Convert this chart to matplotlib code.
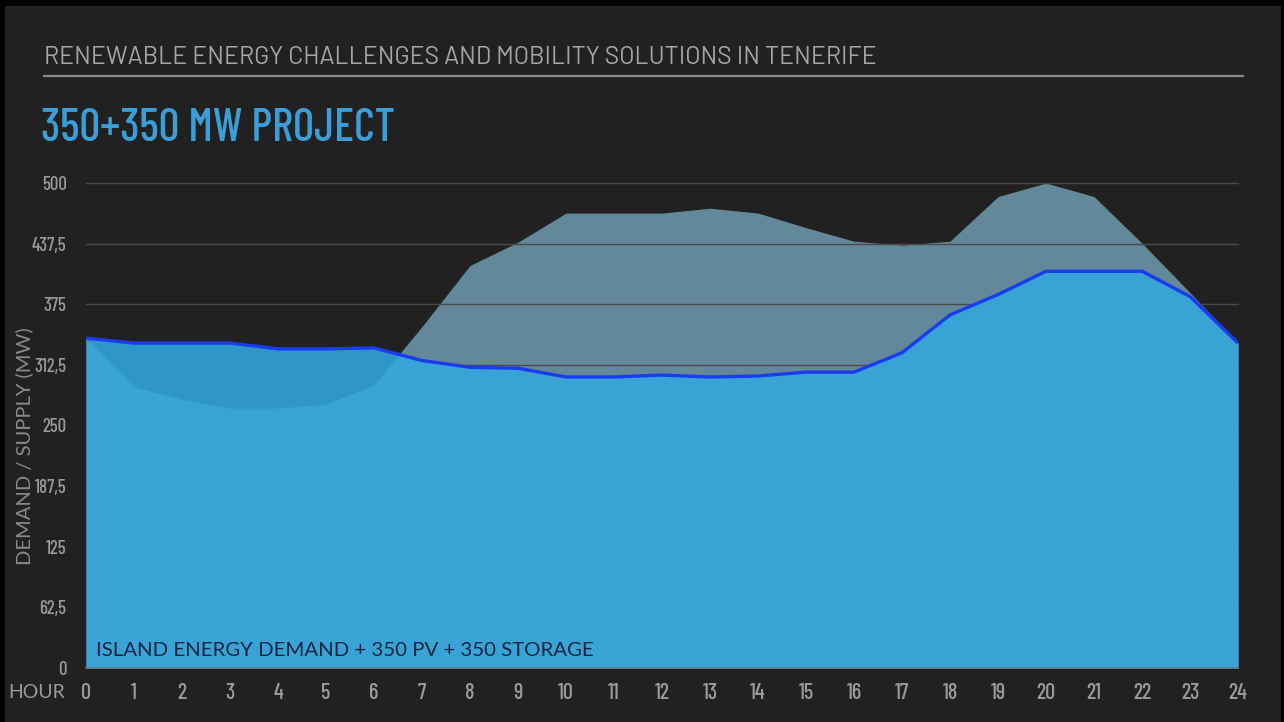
import matplotlib.pyplot as plt
from matplotlib.patches import Rectangle
import numpy as np

# godziny i wartosci (MW)
hours = np.arange(0, 25)
supply = [340, 290, 277, 268, 268, 272, 292, 352, 415, 439, 469, 469, 469,
          474, 469, 454, 440, 436, 440, 486, 500, 486, 438, 387, 335]
demand = [340, 335, 335, 335, 329, 329, 330, 317, 310, 309, 300, 300, 302,
          300, 301, 305, 305, 325, 364, 385, 409, 409, 409, 383, 335]

y_ticks = [0, 62.5, 125, 187.5, 250, 312.5, 375, 437.5, 500]
y_tick_labels = ['0', '62,5', '125', '187,5', '250', '312,5', '375', '437,5', '500']

W, H = 1284, 722
BG = '#212121'

COND = ['Barlow Condensed', 'Roboto Condensed', 'DejaVu Sans']
WIDE = ['Barlow', 'Roboto', 'DejaVu Sans']
PLAIN = ['Lato', 'DejaVu Sans']


def fx(px):
    return px / W


def fy(py):
    return 1 - py / H


fig = plt.figure(figsize=(W / 100, H / 100), dpi=100, facecolor='black')
fig.patches.append(Rectangle((fx(5), 0), fx(1281) - fx(5), fy(6),
                             transform=fig.transFigure, facecolor=BG,
                             edgecolor='none', zorder=-5))

ax = fig.add_axes([fx(86), fy(668), fx(1238) - fx(86), fy(183) - fy(668)])
ax.set_facecolor('none')

sup = np.array(supply)
dem = np.array(demand)
ax.fill_between(hours, 0, sup, color='#63889a', lw=0, zorder=1)
for yv in y_ticks[1:]:
    ax.axhline(yv, color='#4a4a4a', lw=1, zorder=2, clip_on=False)
ax.fill_between(hours, 0, dem, color='#3aa3d6', lw=0, zorder=3)
ax.fill_between(hours, sup, dem, where=sup < dem, interpolate=True,
                color='#2f96c9', lw=0, zorder=3.5)
ax.plot(hours, demand, color='#1a3cf0', lw=2.4, zorder=4, solid_capstyle='butt')

ax.set_xlim(0, 24)
ax.set_ylim(0, 500)
ax.set_xticks(hours)
ax.set_xticklabels([str(h) for h in hours], family=COND, fontweight='medium',
                   fontsize=16, color='#9a9a9a')
ax.set_yticks(y_ticks)
ax.set_yticklabels(y_tick_labels, family=COND, fontweight='medium',
                   fontsize=13.5, color='#9a9a9a')
ax.tick_params(axis='x', length=0, pad=11)
ax.tick_params(axis='y', length=0, pad=14)
for s in ['top', 'right', 'left']:
    ax.spines[s].set_visible(False)
ax.spines['bottom'].set_color('#6a7a80')
ax.spines['bottom'].set_linewidth(1.2)
ax.spines['bottom'].set_zorder(5)

ax.text(0.2, 18, 'ISLAND ENERGY DEMAND + 350 PV + 350 STORAGE', family=PLAIN,
        fontsize=14.7, color='#0c2540', va='center', ha='left', zorder=6)

fig.text(fx(44), fy(58), 'RENEWABLE ENERGY CHALLENGES AND MOBILITY SOLUTIONS IN TENERIFE',
         family=WIDE, fontsize=17.8, color='#a5a5a5', va='center', ha='left')
fig.add_artist(plt.Line2D([fx(44), fx(1243)], [fy(76), fy(76)],
                          transform=fig.transFigure, color='#8a8a8a', lw=1.6))
fig.text(fx(41), fy(129), '350+350 MW PROJECT', family=COND,
         fontsize=33, fontweight='medium', color='#3a9fd8', va='center', ha='left')

fig.text(fx(24), fy(446), 'DEMAND / SUPPLY (MW)', family=PLAIN, fontsize=14.5,
         color='#8a8a8a', rotation=90, va='center', ha='center')
fig.text(fx(8), fy(692), 'HOUR', family=PLAIN, fontsize=14, color='#9a9a9a',
         va='center', ha='left')

fig.savefig('out.png', dpi=100, facecolor=fig.get_facecolor())
